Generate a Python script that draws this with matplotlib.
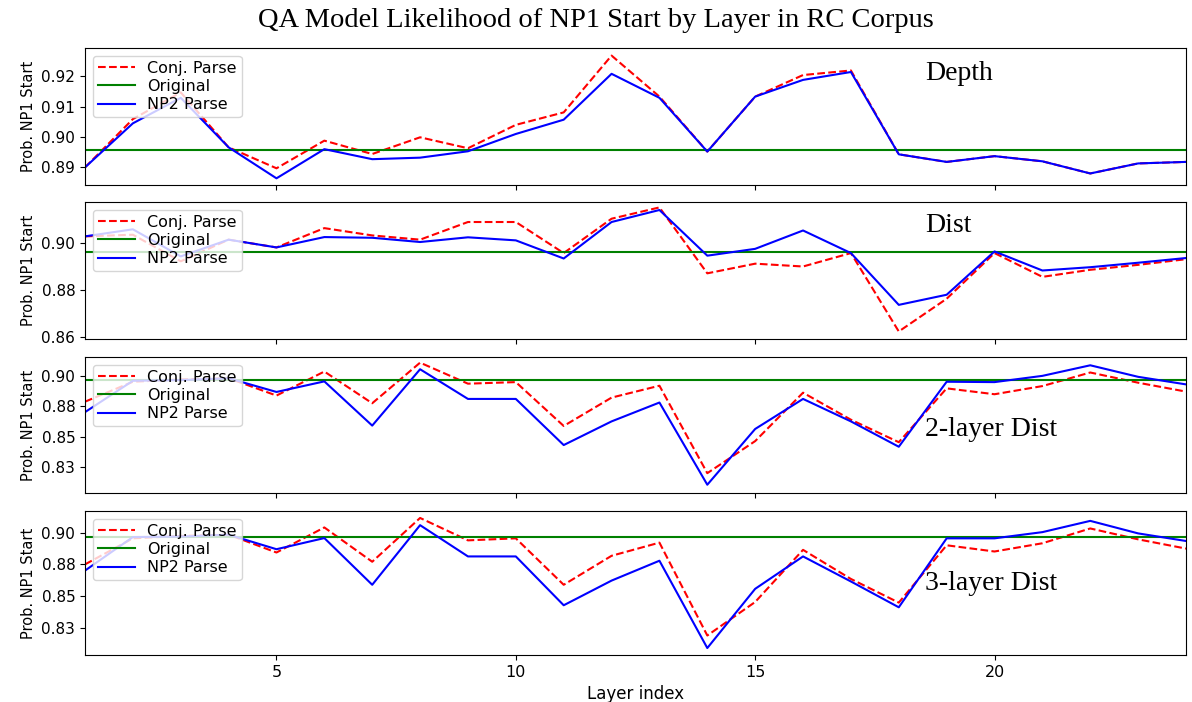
import matplotlib
matplotlib.use("Agg")
import matplotlib.pyplot as plt

layers = list(range(1, 25))

# panel 1: Depth
depth_conj = [0.8900, 0.9059, 0.9147, 0.8966, 0.8897, 0.8988, 0.8944, 0.8999, 0.8963, 0.9040, 0.9081, 0.9268,
              0.9133, 0.8952, 0.9133, 0.9204, 0.9219, 0.8943, 0.8918, 0.8937, 0.8920, 0.8880, 0.8913, 0.8918]
depth_np2 = [0.8900, 0.9045, 0.9129, 0.8966, 0.8864, 0.8960, 0.8927, 0.8932, 0.8953, 0.9010, 0.9057, 0.9208,
             0.9129, 0.8952, 0.9133, 0.9188, 0.9214, 0.8943, 0.8918, 0.8937, 0.8920, 0.8880, 0.8913, 0.8918]
depth_orig = 0.8958

# panel 2: Dist
dist_conj = [0.9027, 0.9034, 0.8921, 0.9013, 0.8980, 0.9062, 0.9031, 0.9013, 0.9088, 0.9088, 0.8956, 0.9102,
             0.9150, 0.8870, 0.8911, 0.8899, 0.8956, 0.8623, 0.8762, 0.8956, 0.8855, 0.8885, 0.8906, 0.8930]
dist_np2 = [0.9027, 0.9057, 0.8942, 0.9013, 0.8980, 0.9024, 0.9021, 0.9003, 0.9023, 0.9010, 0.8933, 0.9088,
            0.9139, 0.8945, 0.8974, 0.9052, 0.8956, 0.8736, 0.8779, 0.8963, 0.8882, 0.8896, 0.8915, 0.8935]
dist_orig = 0.8962

# panel 3: 2-layer Dist
dist2_conj = [0.8790, 0.8956, 0.8975, 0.8985, 0.8841, 0.9041, 0.8777, 0.9115, 0.8940, 0.8953, 0.8588, 0.8824,
              0.8923, 0.8195, 0.8462, 0.8865, 0.8640, 0.8453, 0.8901, 0.8852, 0.8920, 0.9033, 0.8948, 0.8874]
dist2_np2 = [0.8703, 0.8964, 0.8970, 0.8985, 0.8871, 0.8959, 0.8591, 0.9060, 0.8813, 0.8813, 0.8429, 0.8626,
             0.8783, 0.8099, 0.8563, 0.8813, 0.8626, 0.8415, 0.8956, 0.8953, 0.9005, 0.9093, 0.8997, 0.8934]
dist2_orig = 0.8967

# panel 4: 3-layer Dist
dist3_conj = [0.8750, 0.8956, 0.8975, 0.8985, 0.8844, 0.9042, 0.8771, 0.9117, 0.8940, 0.8956, 0.8589, 0.8818,
              0.8922, 0.8188, 0.8453, 0.8865, 0.8635, 0.8448, 0.8901, 0.8852, 0.8917, 0.9034, 0.8948, 0.8875]
dist3_np2 = [0.8701, 0.8966, 0.8970, 0.8985, 0.8870, 0.8958, 0.8589, 0.9060, 0.8813, 0.8813, 0.8427, 0.8622,
             0.8779, 0.8089, 0.8557, 0.8813, 0.8615, 0.8411, 0.8956, 0.8956, 0.9005, 0.9094, 0.8995, 0.8935]
dist3_orig = 0.8969

panels = [
    ("Depth", depth_conj, depth_np2, depth_orig),
    ("Dist", dist_conj, dist_np2, dist_orig),
    ("2-layer Dist", dist2_conj, dist2_np2, dist2_orig),
    ("3-layer Dist", dist3_conj, dist3_np2, dist3_orig),
]

ylims = [(0.8842, 0.9293), (0.8591, 0.9173), (0.803, 0.9162), (0.8034, 0.9172)]
yticks = [[0.89, 0.90, 0.91, 0.92], [0.86, 0.88, 0.90],
          [0.825, 0.85, 0.875, 0.90], [0.825, 0.85, 0.875, 0.90]]
ytick_labels = [["0.89", "0.90", "0.91", "0.92"], ["0.86", "0.88", "0.90"],
                ["0.83", "0.85", "0.88", "0.90"], ["0.83", "0.85", "0.88", "0.90"]]
label_pos = [(0.763, 0.816), (0.763, 0.83), (0.763, 0.47), (0.763, 0.50)]

W, H = 1192, 702
extents = [(48, 185), (202, 339), (357, 493), (511, 655)]
left_px, right_px = 85, 1186

fig = plt.figure(figsize=(W / 100, H / 100), dpi=100)
axes = []
for top, bot in extents:
    ax = fig.add_axes([left_px / W, 1 - bot / H, (right_px - left_px) / W, (bot - top) / H],
                      sharex=axes[0] if axes else None)
    axes.append(ax)

for i, (ax, (name, conj, np2, orig)) in enumerate(zip(axes, panels)):
    ax.plot(layers, conj, "r--", lw=1.5, label="Conj. Parse")
    ax.axhline(orig, color="green", lw=1.5, label="Original")
    ax.plot(layers, np2, "b-", lw=1.5, label="NP2 Parse")
    ax.set_ylim(*ylims[i])
    ax.set_yticks(yticks[i])
    ax.set_yticklabels(ytick_labels[i], fontsize=11)
    ax.set_ylabel("Prob. NP1 Start", fontsize=10.5)
    ax.legend(loc="upper left", fontsize=11.5, handlelength=2.3, borderpad=0.3, labelspacing=0.2)
    ax.text(label_pos[i][0], label_pos[i][1], name, transform=ax.transAxes,
            fontsize=20, family="Liberation Serif", va="center", ha="left")
    if i < 3:
        ax.tick_params(axis="x", labelbottom=False)

axes[-1].set_xlim(1, 24)
axes[-1].set_xticks([5, 10, 15, 20])
axes[-1].tick_params(axis="x", labelsize=11.5)
axes[-1].set_xlabel("Layer index", fontsize=12)
fig.align_ylabels(axes)

fig.suptitle("QA Model Likelihood of NP1 Start by Layer in RC Corpus",
             fontsize=20.5, family="Liberation Serif", y=0.988)

plt.savefig("out.png", dpi=100)
